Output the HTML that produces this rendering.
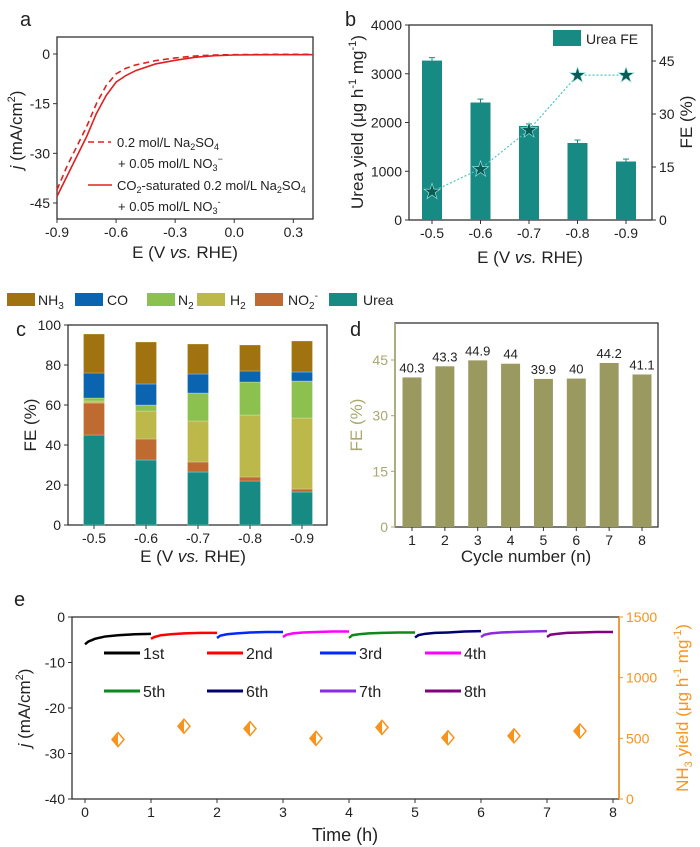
<!DOCTYPE html>
<html><head><meta charset="utf-8"><style>
body{margin:0;background:#fff}
svg{display:block;font-family:"Liberation Sans",Arial,sans-serif}
</style></head><body>
<svg id="fig" width="700" height="847" viewBox="0 0 700 847" xmlns="http://www.w3.org/2000/svg">
<g id="pa"></g>
<g id="pb"></g>
<g id="pc"></g>
<g id="pd"></g>
<g id="pe"></g>
</svg>
<script>
// ---- data ----
const aE_dash=[-0.9,-0.85,-0.8,-0.75,-0.7,-0.65,-0.6,-0.55,-0.5,-0.4,-0.3,-0.2,-0.1,0,0.2,0.4];
const aJ_dash=[-41,-34,-28,-22,-15,-9.5,-6,-4.3,-3.3,-2,-1.2,-0.6,-0.3,-0.2,-0.1,-0.1];
const aE_solid=[-0.9,-0.85,-0.8,-0.75,-0.7,-0.65,-0.6,-0.55,-0.5,-0.4,-0.3,-0.2,-0.1,0,0.2,0.4];
const aJ_solid=[-43,-37,-31,-25,-18,-12.5,-8.5,-6.5,-5,-3,-1.9,-1,-0.5,-0.3,-0.2,-0.2];
const bCats=["-0.5","-0.6","-0.7","-0.8","-0.9"];
const bYield=[3270,2410,1930,1580,1200];
const bYieldErr=[60,70,40,60,50];
const bFE=[8,14.5,25.5,41,41];
const cCats=["-0.5","-0.6","-0.7","-0.8","-0.9"];
const cUrea=[45,32.5,26.5,22,16.5];
const cNO2=[16,10.5,5,2,1.5];
const cH2=[1,14,20.5,31,35.5];
const cN2=[1.5,3,14,16.5,18.5];
const cCO=[12.5,10.5,9.5,5.5,4.5];
const cNH3=[19.5,21,15,13,15.5];
const dCats=["1","2","3","4","5","6","7","8"];
const dFE=[40.3,43.3,44.9,44,39.9,40,44.2,41.1];
const eOffsets=[0,0.05,0.15,0.3,0.5,0.75,1.0];
const eC1=[-6,-5.4,-4.8,-4.3,-4,-3.8,-3.7];
const eC2=[-4.8,-4.4,-4,-3.8,-3.6,-3.5,-3.5];
const eC3=[-4.6,-4.1,-3.8,-3.6,-3.4,-3.3,-3.3];
const eC4=[-4.4,-3.9,-3.6,-3.4,-3.3,-3.2,-3.2];
const eC5=[-4.6,-4,-3.8,-3.6,-3.5,-3.4,-3.4];
const eC6=[-4.5,-4,-3.7,-3.5,-3.4,-3.2,-3.1];
const eC7=[-4.4,-3.9,-3.6,-3.4,-3.3,-3.2,-3.1];
const eC8=[-4.4,-3.9,-3.7,-3.5,-3.4,-3.3,-3.3];
const eNH3=[490,600,580,500,590,505,520,560];
const eLabels=["1st","2nd","3rd","4th","5th","6th","7th","8th"];
const eColors=["#000","#f00","#0028ff","#f0f","#0a8a1a","#00006e","#8a2be2","#800080"];

const NS="http://www.w3.org/2000/svg";
function el(p,tag,attrs,txt){const e=document.createElementNS(NS,tag);for(const k in attrs)e.setAttribute(k,attrs[k]);if(txt!==undefined)e.innerHTML=txt;p.appendChild(e);return e;}
function lin(d0,d1,r0,r1){return v=>r0+(v-d0)*(r1-r0)/(d1-d0);}
function frame(g,x0,y0,x1,y1,name){const r=el(g,'rect',{x:x0,y:y0,width:x1-x0,height:y1-y0,fill:'none',stroke:'#333','stroke-width':1.3});}
function txt(g,x,y,s,opt,name){const t=el(g,'text',Object.assign({x:x,y:y,'font-size':14,fill:'#222'},opt||{}),s);return t;}
function ytick(g,x,y,lab,side,col){const d=side==='r'?1:-1;el(g,'line',{x1:x,x2:x+d*4,y1:y,y2:y,stroke:col||'#333'});txt(g,x+d*7,y+5,lab,{'text-anchor':side==='r'?'start':'end',fill:col||'#222'},'y-tick-label');}
function xtick(g,x,y,lab){el(g,'line',{x1:x,x2:x,y1:y,y2:y+4,stroke:'#333'});txt(g,x,y+18,lab,{'text-anchor':'middle'},'x-tick-label');}

// ---- Panel a ----
(function(){
const g=document.getElementById('pa');
const X=lin(-0.9,0.4,57,313),Y=lin(0,-45,54,203);
frame(g,57,37,313,219,'plot-frame-a');
[0,-15,-30,-45].forEach(v=>ytick(g,57,Y(v),v));
[-0.9,-0.6,-0.3,0,0.3].forEach(v=>xtick(g,X(v),219,v.toFixed(1)));
const pd=aE_dash.map((e,i)=>X(e)+','+Y(aJ_dash[i])).join(' ');
const l1=el(g,'polyline',{points:pd,fill:'none',stroke:'#e02020','stroke-width':1.6,'stroke-dasharray':'6,4'});

const ps=aE_solid.map((e,i)=>X(e)+','+Y(aJ_solid[i])).join(' ');
const l2=el(g,'polyline',{points:ps,fill:'none',stroke:'#e02020','stroke-width':1.6});

el(g,'line',{x1:88,x2:111,y1:142,y2:142,stroke:'#e02020','stroke-width':1.6,'stroke-dasharray':'6,4'});
txt(g,117,147,'0.2 mol/L Na<tspan font-size="9" dy="3">2</tspan><tspan dy="-3">SO</tspan><tspan font-size="9" dy="3">4</tspan>',{'font-size':13},'legend-dashed');
txt(g,118,168,'+ 0.05 mol/L NO<tspan font-size="9" dy="3">3</tspan><tspan font-size="9" dy="-9">−</tspan>',{'font-size':13},'legend-dashed-2');
el(g,'line',{x1:88,x2:112,y1:185,y2:185,stroke:'#e02020','stroke-width':1.6});
txt(g,117,190,'CO<tspan font-size="9" dy="3">2</tspan><tspan dy="-3">-saturated 0.2 mol/L Na</tspan><tspan font-size="9" dy="3">2</tspan><tspan dy="-3">SO</tspan><tspan font-size="9" dy="3">4</tspan>',{'font-size':13},'legend-solid');
txt(g,118,211,'+ 0.05 mol/L NO<tspan font-size="9" dy="3">3</tspan><tspan font-size="9" dy="-9">-</tspan>',{'font-size':13},'legend-solid-2');
txt(g,20,26,'a',{'font-size':20},'panel-label-a');
txt(g,185,258,'E (V <tspan font-style="italic">vs.</tspan> RHE)',{'font-size':17,'text-anchor':'middle'},'x-axis-title-a');
txt(g,0,0,'<tspan font-style="italic">j</tspan> (mA/cm<tspan font-size="11" dy="-7">2</tspan><tspan dy="7">)</tspan>',{'font-size':17,'text-anchor':'middle',transform:'translate(22,130) rotate(-90)'},'y-axis-title-a');
})();

// ---- Panel b ----
(function(){
const g=document.getElementById('pb');
const X0=432,dx=48.5,Y=lin(0,4000,220,25),Y2=lin(0,45,220,61);
frame(g,409,25,652,220,'plot-frame-b');
[0,1000,2000,3000,4000].forEach(v=>ytick(g,409,Y(v),v));
[0,15,30,45].forEach(v=>ytick(g,652,Y2(v),v,'r'));
bCats.forEach((c,i)=>{const x=X0+i*dx;xtick(g,x,220,c);
 const b=el(g,'rect',{x:x-10,y:Y(bYield[i]),width:20,height:220-Y(bYield[i]),fill:'#178a84'});
 
 el(g,'line',{x1:x,x2:x,y1:Y(bYield[i]+bYieldErr[i]),y2:Y(bYield[i]),stroke:'#178a84'});
 el(g,'line',{x1:x-3,x2:x+3,y1:Y(bYield[i]+bYieldErr[i]),y2:Y(bYield[i]+bYieldErr[i]),stroke:'#178a84'});
});
const pts=bFE.map((v,i)=>(X0+i*dx)+','+Y2(v)).join(' ');
const pl=el(g,'polyline',{points:pts,fill:'none',stroke:'#4cc6c0','stroke-width':1.2,'stroke-dasharray':'2,2'});

bFE.forEach((v,i)=>{txt(g,X0+i*dx,Y2(v)+7,'★',{'font-size':21,'text-anchor':'middle',fill:'#0a5a56',stroke:'#9fe3df','stroke-width':0.6},'fe-star');});
const lb=el(g,'rect',{x:553,y:30,width:28,height:16,fill:'#178a84'});
txt(g,586,44,'Urea FE',{'font-size':14},'legend-label-b');
txt(g,345,26,'b',{'font-size':20},'panel-label-b');
txt(g,530,263,'E (V <tspan font-style="italic">vs.</tspan> RHE)',{'font-size':17,'text-anchor':'middle'},'x-axis-title-b');
txt(g,0,0,'Urea yield (μg h<tspan font-size="11" dy="-7">-1</tspan><tspan dy="7"> mg</tspan><tspan font-size="11" dy="-7">-1</tspan><tspan dy="7">)</tspan>',{'font-size':17,'text-anchor':'middle',transform:'translate(363,122) rotate(-90)'},'y-axis-title-b');
txt(g,0,0,'FE (%)',{'font-size':17,'text-anchor':'middle',transform:'translate(692,122) rotate(-90)'},'y2-axis-title-b');
})();

// ---- Panel c ----
(function(){
const g=document.getElementById('pc');
const X0=94,dx=52,Y=lin(0,100,525,325);
frame(g,68,325,327,525,'plot-frame-c');
[0,20,40,60,80,100].forEach(v=>ytick(g,68,Y(v),v));
const series=[cUrea,cNO2,cH2,cN2,cCO,cNH3];
const cols=['#178a84','#bf6a30','#bcb84a','#8cc14f','#0a64b0','#a07310'];
const names=['urea','no2','h2','n2','co','nh3'];
cCats.forEach((c,i)=>{const x=X0+i*dx;xtick(g,x,525,c);let cum=0;
 series.forEach((s,k)=>{const y1=Y(cum+s[i]),y0=Y(cum);
  const r=el(g,'rect',{x:x-10.5,y:y1,width:21,height:y0-y1,fill:cols[k],stroke:'rgba(255,255,255,0.4)','stroke-width':0.6});
  cum+=s[i];});
});
const leg=[['NH<tspan font-size="10" dy="4">3</tspan>','#a07310',7,38],['CO','#0a64b0',75,107],['N<tspan font-size="10" dy="4">2</tspan>','#8cc14f',147,178],['H<tspan font-size="10" dy="4">2</tspan>','#bcb84a',197,230],['NO<tspan font-size="10" dy="4">2</tspan><tspan font-size="10" dy="-10">-</tspan>','#bf6a30',255,288],['Urea','#178a84',329,363]];
leg.forEach(l=>{const r=el(g,'rect',{x:l[2],y:293,width:28,height:13,fill:l[1]});
 txt(g,l[3],305,l[0],{'font-size':14},'legend-label-c');});
txt(g,16,336,'c',{'font-size':20},'panel-label-c');
txt(g,193,562,'E (V <tspan font-style="italic">vs.</tspan> RHE)',{'font-size':17,'text-anchor':'middle'},'x-axis-title-c');
txt(g,0,0,'FE (%)',{'font-size':17,'text-anchor':'middle',transform:'translate(36,425) rotate(-90)'},'y-axis-title-c');
})();

// ---- Panel d ----
(function(){
const g=document.getElementById('pd');
const X0=412,dx=32.86,Y=lin(0,45,527,360),ol='#a8a870';
frame(g,395,323,658,527,'plot-frame-d');
el(g,'line',{x1:395,x2:395,y1:323,y2:527,stroke:ol,'stroke-width':1.6});
[0,15,30,45].forEach(v=>ytick(g,395,Y(v),v,'l',ol));
dCats.forEach((c,i)=>{const x=X0+i*dx;xtick(g,x,527,c);
 const b=el(g,'rect',{x:x-9.5,y:Y(dFE[i]),width:19,height:527-Y(dFE[i]),fill:'#9a9a60'});
 
 txt(g,x,Y(dFE[i])-5,String(dFE[i]),{'font-size':13,'text-anchor':'middle'},'bar-value');});
txt(g,350,336,'d',{'font-size':20},'panel-label-d');
txt(g,526,562,'Cycle number (n)',{'font-size':17,'text-anchor':'middle'},'x-axis-title-d');
txt(g,0,0,'FE (%)',{'font-size':17,'text-anchor':'middle',fill:ol,transform:'translate(362,425) rotate(-90)'},'y-axis-title-d');
})();

// ---- Panel e ----
(function(){
const g=document.getElementById('pe');
const X=lin(0,8,85,613),Y=lin(0,-40,617,799),Y2=lin(0,1500,799,617),or='#f7931e';
frame(g,72,617,619,799,'plot-frame-e');
el(g,'line',{x1:619,x2:619,y1:617,y2:799,stroke:or,'stroke-width':1.6});
[0,-10,-20,-30,-40].forEach(v=>ytick(g,72,Y(v),v));
[0,500,1000,1500].forEach(v=>ytick(g,619,Y2(v),v,'r',or));
for(let i=0;i<=8;i++)xtick(g,X(i),799,i);
const cyc=[eC1,eC2,eC3,eC4,eC5,eC6,eC7,eC8];
cyc.forEach((c,i)=>{const p=eOffsets.map((o,k)=>X(i+o)+','+Y(c[k])).join(' ');
 const l=el(g,'polyline',{points:p,fill:'none',stroke:eColors[i],'stroke-width':2.5});
 });
eLabels.forEach((lab,i)=>{const col=i%4,row=Math.floor(i/4);const lx=[104,207,320,425][col],ly=row?691:653;
 el(g,'line',{x1:lx,x2:lx+36,y1:ly,y2:ly,stroke:eColors[i],'stroke-width':3});
 txt(g,lx+39,ly+6,lab,{'font-size':16},'legend-label-e');});
eNH3.forEach((v,i)=>{const x=X(i+0.5),y=Y2(v);
 const d=el(g,'polygon',{points:`${x},${y-7} ${x+6},${y} ${x},${y+7} ${x-6},${y}`,fill:'#fff',stroke:or,'stroke-width':1.5});
 
 el(g,'polygon',{points:`${x},${y-7} ${x-6},${y} ${x},${y+7}`,fill:or});});
txt(g,14,606,'e',{'font-size':20},'panel-label-e');
txt(g,345,841,'Time (h)',{'font-size':18,'text-anchor':'middle'},'x-axis-title-e');
txt(g,0,0,'<tspan font-style="italic">j</tspan> (mA/cm<tspan font-size="11" dy="-7">2</tspan><tspan dy="7">)</tspan>',{'font-size':17,'text-anchor':'middle',transform:'translate(30,708) rotate(-90)'},'y-axis-title-e');
txt(g,0,0,'NH<tspan font-size="11" dy="4">3</tspan><tspan dy="-4"> yield (μg h</tspan><tspan font-size="11" dy="-7">-1</tspan><tspan dy="7"> mg</tspan><tspan font-size="11" dy="-7">-1</tspan><tspan dy="7">)</tspan>',{'font-size':17,'text-anchor':'middle',fill:or,transform:'translate(688,708) rotate(-90)'},'y2-axis-title-e');
})();
</script>
</body></html>
